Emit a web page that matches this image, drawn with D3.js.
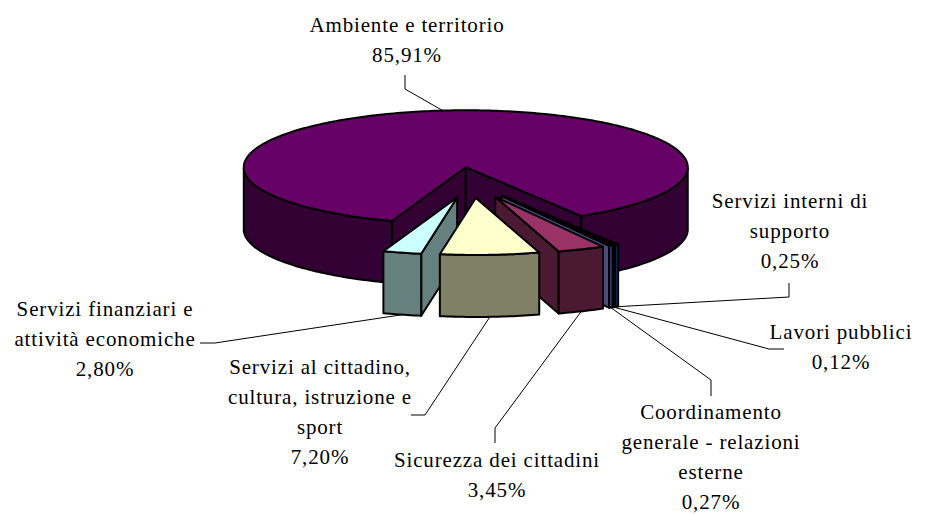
<!DOCTYPE html>
<html>
<head>
<meta charset="utf-8">
<script src="https://cdn.jsdelivr.net/npm/d3@7"></script>
<style>
  html, body { margin: 0; padding: 0; background: #fff; }
  svg { display: block; }
  text { font-family: "Liberation Serif", serif; font-size: 21px; letter-spacing: 0.85px; fill: #000; text-anchor: middle; }
</style>
</head>
<body>
<svg width="926" height="514"></svg>
<script>
var categories = ["Ambiente e territorio", "Servizi interni di supporto", "Lavori pubblici",
  "Coordinamento generale - relazioni esterne", "Sicurezza dei cittadini",
  "Servizi al cittadino, cultura, istruzione e sport", "Servizi finanziari e attività economiche"];
var values = [85.91, 0.25, 0.12, 0.27, 3.45, 7.20, 2.80];
var valueLabels = ["85,91%", "0,25%", "0,12%", "0,27%", "3,45%", "7,20%", "2,80%"];
var labelLines = [
  ["Ambiente e territorio"],
  ["Servizi interni di", "supporto"],
  ["Lavori pubblici"],
  ["Coordinamento", "generale - relazioni", "esterne"],
  ["Sicurezza dei cittadini"],
  ["Servizi al cittadino,", "cultura, istruzione e", "sport"],
  ["Servizi finanziari e", "attività economiche"]
];
var topColors = ["#660066", "#0066CC", "#FF8080", "#9999FF", "#993366", "#FFFFCC", "#CCFFFF"];
var sideColors = ["#330033", "#003366", "#804040", "#4C4C80", "#4C1933", "#808066", "#668080"];

// label placement: text centre, first baseline, then the elbow of the leader
var labelPos = [
  {x: 407, y: 32, leader: [[405, 75], [405, 89]]},
  {x: 790, y: 208, leader: [[789, 283], [789, 297]]},
  {x: 841, y: 339, leader: [[784, 349], [769, 349]]},
  {x: 711, y: 419, leader: [[711, 396], [711, 380]]},
  {x: 497, y: 467, leader: [[495, 443], [495, 428]]},
  {x: 320, y: 374, leader: [[411, 415], [425, 415]]},
  {x: 105, y: 316, leader: [[200, 343], [215, 343]]}
];

var svg = d3.select("svg");

// pie geometry
var cx = 472, cy = 182.6, rx = 222, ry = 57, depth = 62, explode = 0.27;
var rad = Math.PI / 180;

var pie = d3.pie().sort(null).value(function(d) { return d; })
    .startAngle(199.4 * rad).endAngle((199.4 + 360) * rad);
var slices = pie(values);

slices.forEach(function(d) {
  var mid = (d.startAngle + d.endAngle) / 2;
  d.mid = mid;
  d.ox = cx + rx * explode * Math.sin(mid);
  d.oy = cy - ry * explode * Math.cos(mid);
});

function rim(d, a, dy) {
  return [d.ox + rx * Math.sin(a), d.oy - ry * Math.cos(a) + (dy || 0)];
}

function angles(d) {
  var n = Math.max(2, Math.ceil((d.endAngle - d.startAngle) / rad)), out = [];
  for (var i = 0; i <= n; i++) out.push(d.startAngle + (d.endAngle - d.startAngle) * i / n);
  return out;
}

var line = d3.line();

function topPath(d) {
  var pts = [[d.ox, d.oy]].concat(angles(d).map(function(a) { return rim(d, a); }));
  return line(pts) + "Z";
}

function wallPath(d, a) {
  var p = rim(d, a);
  return line([[d.ox, d.oy], p, [p[0], p[1] + depth], [d.ox, d.oy + depth]]) + "Z";
}

// radial walls that face the viewer
function visibleWalls(d) {
  var out = [];
  if (Math.sin(d.startAngle) < 0) out.push(d.startAngle);
  if (Math.sin(d.endAngle) > 0) out.push(d.endAngle);
  return out;
}

// outer wall, only the parts that face the viewer
function outerPaths(d) {
  var groups = [], cur = null;
  angles(d).forEach(function(a) {
    if (Math.cos(a) <= 0.001) {
      if (!cur) { cur = []; groups.push(cur); }
      cur.push(a);
    } else cur = null;
  });
  return groups.map(function(g) {
    var upper = g.map(function(a) { return rim(d, a); });
    var lower = g.slice().reverse().map(function(a) { return rim(d, a, depth); });
    return line(upper.concat(lower)) + "Z";
  });
}

var drawOrder = [0, 1, 2, 3, 4, 6, 5];

var wedges = svg.append("g")
    .attr("stroke", "#000")
    .attr("stroke-width", 2)
    .attr("stroke-linejoin", "round")
  .selectAll("g")
  .data(drawOrder.map(function(i) { return slices[i]; }))
  .enter().append("g");

wedges.each(function(d) {
  var g = d3.select(this), side = sideColors[d.index];
  g.selectAll("path.wall")
      .data(visibleWalls(d))
      .enter().append("path")
      .attr("class", "wall")
      .attr("fill", side)
      .attr("d", function(a) { return wallPath(d, a); });
  g.selectAll("path.outer")
      .data(outerPaths(d))
      .enter().append("path")
      .attr("class", "outer")
      .attr("fill", side)
      .attr("d", function(p) { return p; });
  g.append("path")
      .attr("fill", topColors[d.index])
      .attr("d", topPath(d));
});

// leaders run from the label elbow to the rim of the slice
var leaders = svg.append("g").attr("fill", "none").attr("stroke", "#000").attr("stroke-width", 1);
slices.forEach(function(d, i) {
  var front = Math.cos(d.mid) < 0;
  var end = rim(d, d.mid, front ? depth : 0);
  leaders.append("path").attr("d", line(labelPos[i].leader.concat([end])));
});

var lineGap = 30;
labelLines.forEach(function(lines, i) {
  var t = svg.append("text").attr("y", labelPos[i].y);
  lines.concat([valueLabels[i]]).forEach(function(s, j) {
    t.append("tspan")
        .attr("x", labelPos[i].x)
        .attr("y", labelPos[i].y + j * lineGap)
        .text(s);
  });
});
</script>
</body>
</html>
